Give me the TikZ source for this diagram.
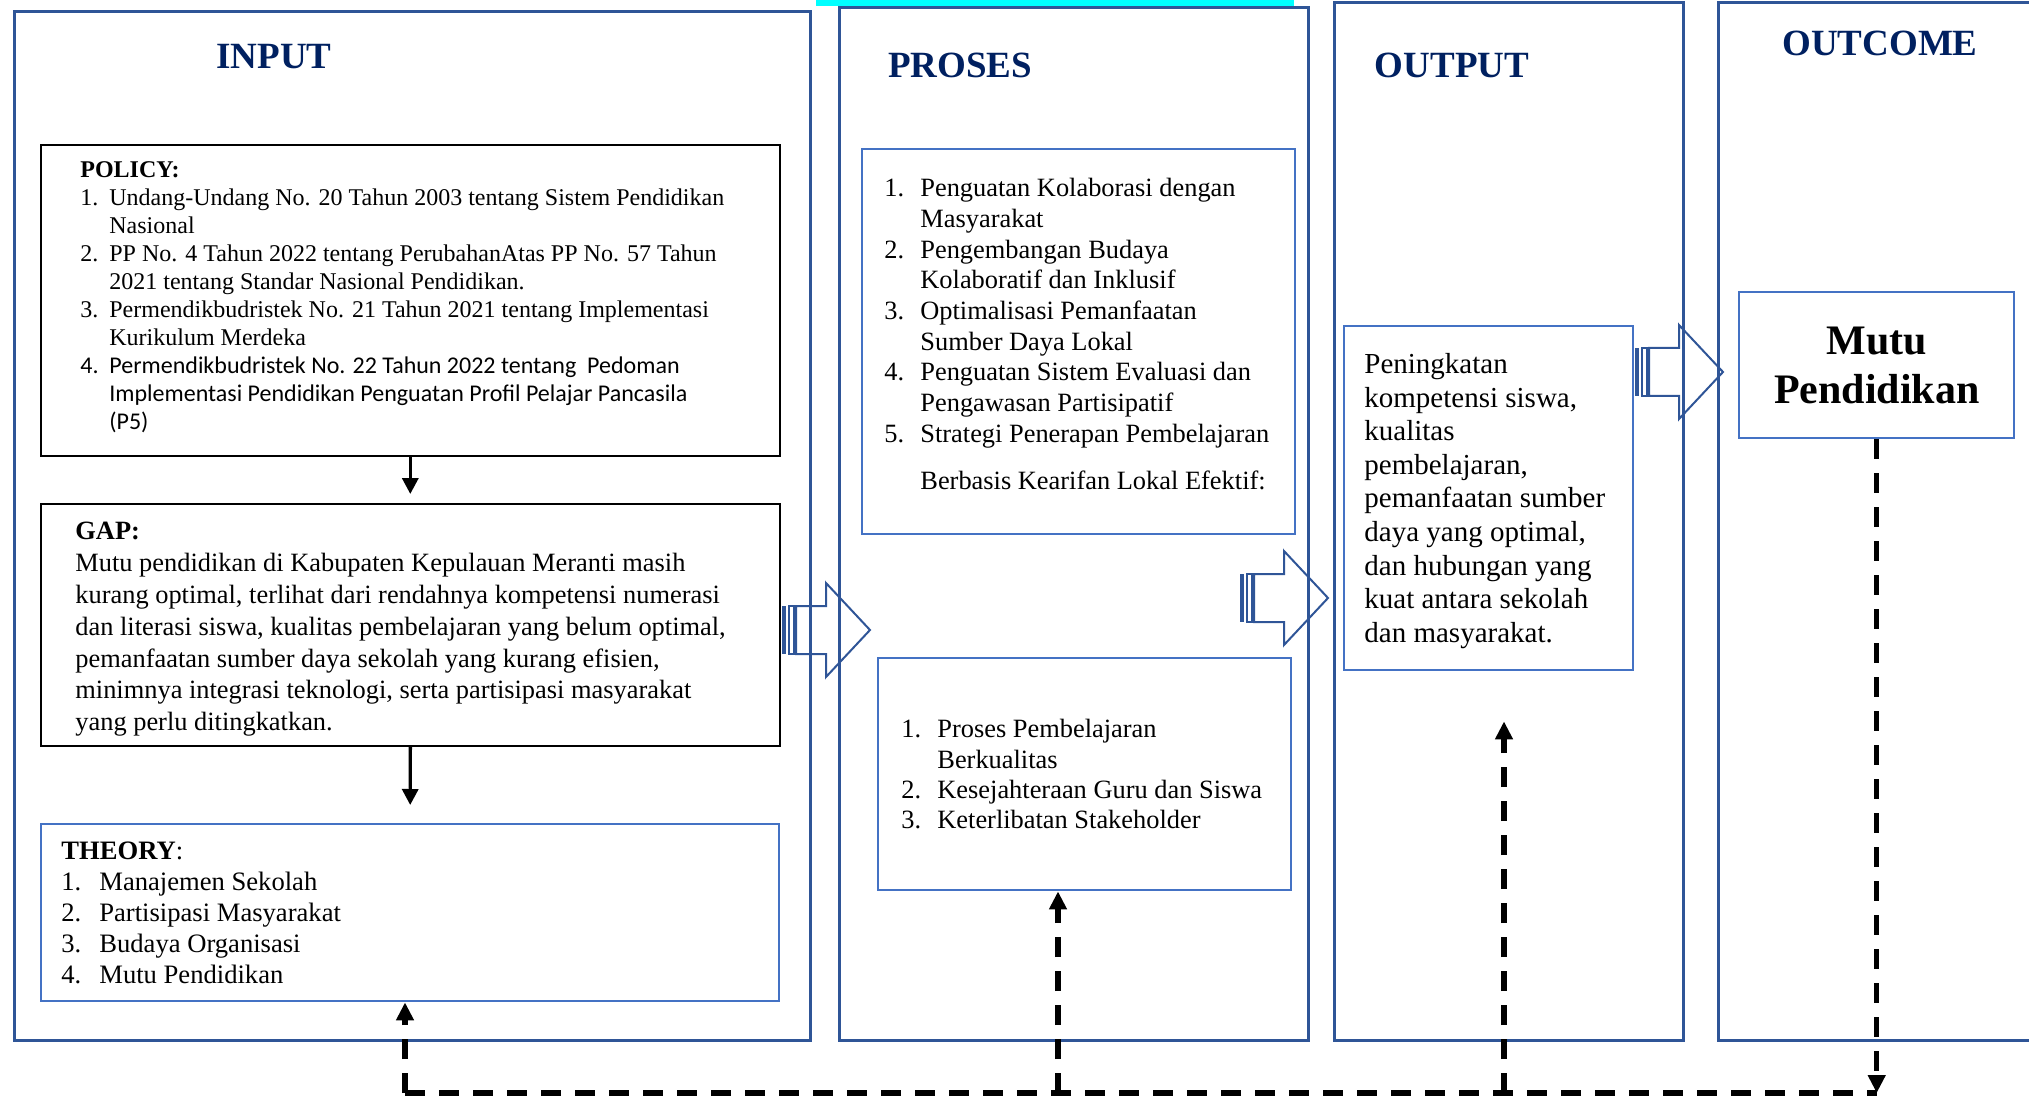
\documentclass[tikz,border=0pt]{standalone}
\usepackage{fontspec}
\setmainfont{Liberation Serif}
\newfontfamily\calibri{Carlito}
\usetikzlibrary{arrows.meta}

\definecolor{framecol}{RGB}{47,85,151}
\definecolor{boxblue}{RGB}{68,114,196}
\definecolor{titlenavy}{RGB}{0,32,96}
\definecolor{barcyan}{RGB}{0,255,255}

% hanging numbers for the lists
\newcommand\li[2][18pt]{\makebox[#1][l]{#2}}
\newcommand\cont[1][18pt]{\hspace*{#1}}

\tikzset{
  colframe/.style={draw=framecol, line width=1.5pt, anchor=north west, inner sep=0pt},
  bluebox/.style={draw=boxblue, line width=1.2pt, anchor=north west, inner sep=0pt},
  blackbox/.style={draw=black, line width=0.8pt, anchor=north west, inner sep=0pt},
  coltitle/.style={text=titlenavy, font=\fontsize{18.5}{22}\selectfont\bfseries, inner sep=0pt},
  boxtext/.style={anchor=north west, align=left, inner sep=0pt},
  solidarrow/.style={line width=1.7pt, -{Triangle[length=8pt,width=8pt]}},
  dashline/.style={line width=2.6pt, dash pattern=on 10pt off 7pt},
  dasharrow/.style={dashline, -{Triangle[length=9pt,width=8.5pt]}},
  blockarrow/.style={draw=framecol, line width=1pt},
}

\begin{document}
\begin{tikzpicture}[x=0.5pt,y=-0.5pt]
  \useasboundingbox (0,0) rectangle (2029,1096);

  % cyan strip at the top
  \fill[barcyan] (816,0) rectangle (1294,6);

  % Column frames
  \node[colframe, minimum width=398pt, minimum height=514.5pt] (incol) at (13,10) {};
  \node[colframe, minimum width=234.5pt, minimum height=516.5pt] (procol) at (838,6) {};
  \node[colframe, minimum width=174.5pt, minimum height=519pt] (outcol) at (1333,1) {};
  \node[colframe, minimum width=161.5pt, minimum height=519pt] (outcomecol) at (1717,1) {};

  % Column titles
  \node[coltitle] (tinput) at (274,57) {INPUT};
  \node[coltitle] (tproses) at (960,65) {PROSES};
  \node[coltitle] (toutput) at (1452,65) {OUTPUT};
  \node[coltitle] (toutcome) at (1880,43) {OUTCOME};

  % Input boxes
  \node[blackbox, minimum width=369.5pt, minimum height=155.5pt] (policy) at (40,144) {};
  \node[blackbox, minimum width=369.5pt, minimum height=121pt] (gap) at (40,503) {};
  \node[bluebox, minimum width=369pt, minimum height=88.5pt] (theory) at (40,823) {};

  \node[boxtext, font=\fontsize{12}{14}\selectfont] (policytxt) at (80,161) {%
    \textbf{POLICY:}\\
    \li[14.5pt]{1.}Undang-Undang No. 20 Tahun 2003 tentang Sistem Pendidikan\\
    \cont[14.5pt]Nasional\\
    \li[14.5pt]{2.}PP No. 4 Tahun 2022 tentang PerubahanAtas PP No. 57 Tahun\\
    \cont[14.5pt]2021 tentang Standar Nasional Pendidikan.\\
    \li[14.5pt]{3.}Permendikbudristek No. 21 Tahun 2021 tentang Implementasi\\
    \cont[14.5pt]Kurikulum Merdeka\\
    \fontsize{12}{14}\calibri\li[14.5pt]{4.}Permendikbudristek No. 22 Tahun 2022 tentang \ Pedoman\\
    \fontsize{12}{14}\calibri\cont[14.5pt]Implementasi Pendidikan Penguatan Profil Pelajar Pancasila\\
    \fontsize{12}{14}\calibri\cont[14.5pt](P5)};

  \node[boxtext, font=\fontsize{13.2}{15.9}\selectfont] (gaptxt) at (75,522) {%
    \textbf{GAP:}\\
    Mutu pendidikan di Kabupaten Kepulauan Meranti masih\\
    kurang optimal, terlihat dari rendahnya kompetensi numerasi\\
    dan literasi siswa, kualitas pembelajaran yang belum optimal,\\
    pemanfaatan sumber daya sekolah yang kurang efisien,\\
    minimnya integrasi teknologi, serta partisipasi masyarakat\\
    yang perlu ditingkatkan.};

  \node[boxtext, font=\fontsize{13.3}{15.5}\selectfont] (theorytxt) at (61,841) {%
    \textbf{THEORY}:\\
    \li[19pt]{1.}Manajemen Sekolah\\
    \li[19pt]{2.}Partisipasi Masyarakat\\
    \li[19pt]{3.}Budaya Organisasi\\
    \li[19pt]{4.}Mutu Pendidikan};

  % Proses boxes
  \node[bluebox, minimum width=216.5pt, minimum height=192.5pt] (proses1) at (861,148) {};
  \node[bluebox, minimum width=206.5pt, minimum height=116pt] (proses2) at (877,657) {};

  \node[boxtext, font=\fontsize{13.2}{15.35}\selectfont] (proses1txt) at (884,178) {%
    \li{1.}Penguatan Kolaborasi dengan\\
    \cont Masyarakat\\
    \li{2.}Pengembangan Budaya\\
    \cont Kolaboratif dan Inklusif\\
    \li{3.}Optimalisasi Pemanfaatan\\
    \cont Sumber Daya Lokal\\
    \li{4.}Penguatan Sistem Evaluasi dan\\
    \cont Pengawasan Partisipatif\\
    \li{5.}Strategi Penerapan Pembelajaran\\[8pt]
    \cont Berbasis Kearifan Lokal Efektif:};

  \node[boxtext, font=\fontsize{13.2}{15.2}\selectfont] (proses2txt) at (901,719) {%
    \li{1.}Proses Pembelajaran\\
    \cont Berkualitas\\
    \li{2.}Kesejahteraan Guru dan Siswa\\
    \li{3.}Keterlibatan Stakeholder};

  % Output and outcome
  \node[bluebox, minimum width=144.5pt, minimum height=172pt] (outbox) at (1343,325) {};
  \node[boxtext, font=\fontsize{14.5}{16.8}\selectfont] (outtxt) at (1364,353) {%
    Peningkatan\\
    kompetensi siswa,\\
    kualitas\\
    pembelajaran,\\
    pemanfaatan sumber\\
    daya yang optimal,\\
    dan hubungan yang\\
    kuat antara sekolah\\
    dan masyarakat.};

  \node[bluebox, minimum width=137.5pt, minimum height=73pt, align=center,
        font=\fontsize{21}{24.5}\selectfont\bfseries] (mutu) at (1738,291) {Mutu\\Pendidikan};

  % Striped block arrows
  \foreach \x/\y in {782/630, 1240/598, 1635/372} {%
    \fill[framecol] (\x,\y-24) rectangle (\x+4,\y+24);
    \draw[blockarrow] (\x+7,\y-24) rectangle (\x+12,\y+24);
    \draw[blockarrow] (\x+14,\y-24) -- (\x+44,\y-24) -- (\x+44,\y-47) -- (\x+88,\y)
      -- (\x+44,\y+47) -- (\x+44,\y+24) -- (\x+14,\y+24) -- cycle;
  }

  % Solid arrows inside input
  \draw[solidarrow] (policy.south) -- ([yshift=4.5pt]gap.north);
  \draw[solidarrow] (gap.south) -- ([yshift=9pt]theory.north);

  % Feedback line at the bottom
  \coordinate (b1) at (405,1093);
  \coordinate (b2) at (1058,1093);
  \coordinate (b3) at (1504,1093);
  \coordinate (b4) at (mutu.south |- b1);

  \draw[dashline] (b1) -- (b4);
  \draw[dasharrow] (mutu.south) -- (b4);
  \draw[dasharrow] (b1) -- (b1 |- theory.south);
  \draw[dasharrow] (b2) -- (b2 |- proses2.south);
  \draw[dasharrow] (b3) -- ([yshift=-25pt]b3 |- outbox.south);

\end{tikzpicture}
\end{document}
